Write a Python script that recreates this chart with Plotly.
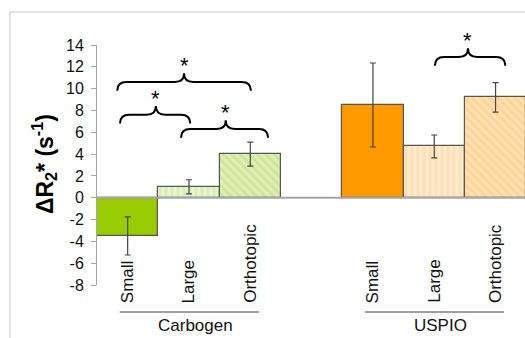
import plotly.graph_objects as go

# ---------------- data ----------------
groups = ["Carbogen", "USPIO"]
categories = ["Small", "Large", "Orthotopic"]
carbogen_values = [-3.5, 1.0, 4.0]
carbogen_errors = [1.75, 0.65, 1.1]
uspio_values = [8.5, 4.7, 9.2]
uspio_errors = [3.85, 1.05, 1.35]
y_tick_values = [-8, -6, -4, -2, 0, 2, 4, 6, 8, 10, 12, 14]
y_tick_labels = ["-8", "-6", "-4", "-2", "0", "2", "4", "6", "8", "10", "12", "14"]

# ---------------- styling ----------------
FONT = "Arial, Liberation Sans, sans-serif"
group_styles = {
    "Carbogen": dict(bg=["#99CC00", "#E9F4D0", "#E0EFB6"],
                     fg=["#99CC00", "#DCEBB6", "#CDE596"],
                     shape=["", "|", "\\"]),
    "USPIO": dict(bg=["#FF9900", "#FFEACD", "#FFE1B2"],
                  fg=["#FF9900", "#FFDFB4", "#FFD393"],
                  shape=["", "|", "\\"]),
}
group_data = {
    "Carbogen": (carbogen_values, carbogen_errors),
    "USPIO": (uspio_values, uspio_errors),
}

fig = go.Figure()
positions = {}
for gi, g in enumerate(groups):
    vals, errs = group_data[g]
    xs = [gi * 4 + j for j in range(len(categories))]
    positions[g] = xs
    st = group_styles[g]
    for j in range(len(categories)):
        pattern = dict(shape=st["shape"][j])
        if st["shape"][j]:
            pattern.update(fgcolor=st["fg"][j], bgcolor=st["bg"][j],
                           size=6, solidity=0.45, fillmode="replace")
        fig.add_trace(go.Bar(
            x=[xs[j]], y=[vals[j]], width=1.0,
            marker=dict(color=st["bg"][j],
                        line=dict(color="#555555", width=1.2),
                        pattern=pattern),
            error_y=dict(type="data", array=[errs[j]], color="#454545",
                         thickness=1.2, width=3),
            showlegend=False, hoverinfo="skip",
        ))

# zero line drawn above bars
fig.add_shape(type="line", xref="x", yref="y", x0=-0.5, x1=7.5, y0=0, y1=0,
              line=dict(color="#A6A6A6", width=2), layer="above")

# category labels (rotated) and group labels
for g in groups:
    xs = positions[g]
    for x, c in zip(xs, categories):
        fig.add_annotation(x=x, y=-0.0833, xref="x", yref="paper", text=c,
                           textangle=-90, showarrow=False, xanchor="center",
                           yanchor="bottom", font=dict(family=FONT, size=17, color="#111111"))
    fig.add_shape(type="line", xref="x", yref="paper", x0=xs[0] - 0.13, x1=xs[-1] + 0.14,
                  y0=-0.1125, y1=-0.1125, line=dict(color="#404040", width=1))
    fig.add_annotation(x=(xs[0] + xs[-1]) / 2 + 0.1, y=-0.12, xref="x", yref="paper",
                       text=g, showarrow=False, xanchor="center", yanchor="top",
                       font=dict(family=FONT, size=17, color="#111111"))

# significance braces: (start, end, middle, y_end)
braces = [
    (-0.17, 2.01, 0.92, 9.8),
    (-0.125, 1.02, 0.46, 6.8),
    (0.87, 2.29, 1.60, 5.5),
    (5.01, 6.16, 5.55, 12.1),
]
r = 0.15
for x0, x1, xm, ye in braces:
    yf = ye + 0.8
    yt = ye + 1.6
    path = (f"M {x0},{ye} Q {x0},{yf} {x0 + r},{yf} L {xm - r},{yf} "
            f"Q {xm},{yf} {xm},{yt} Q {xm},{yf} {xm + r},{yf} "
            f"L {x1 - r},{yf} Q {x1},{yf} {x1},{ye}")
    fig.add_shape(type="path", xref="x", yref="y", path=path,
                  line=dict(color="#000000", width=2))
    fig.add_annotation(x=xm, y=yt, xref="x", yref="y", text="*", showarrow=False,
                       xanchor="center", yanchor="middle", yshift=8,
                       font=dict(family=FONT, size=22, color="#000000"))

# y title
fig.add_annotation(x=-0.1238, y=0.504, xref="paper", yref="paper",
                   text="<b>ΔR<sub>2</sub>* (s<sup>-1</sup>)</b>", textangle=-90,
                   showarrow=False, xanchor="center", yanchor="middle",
                   font=dict(family=FONT, size=23, color="#000000"))

# outer frame
fig.add_shape(type="rect", xref="paper", yref="paper", x0=-0.2033, x1=1.3,
              y0=-0.5, y1=1.1375, line=dict(color="#C8C8C8", width=1))

fig.update_layout(
    width=525, height=338,
    margin=dict(l=97, r=0, t=45, b=53),
    paper_bgcolor="white", plot_bgcolor="white",
    bargap=0, barmode="overlay",
    xaxis=dict(range=[-0.5, 6.48], showticklabels=False, showgrid=False,
               zeroline=False, showline=False, ticks=""),
    yaxis=dict(range=[-8, 14], tickvals=y_tick_values, ticktext=y_tick_labels,
               showgrid=False, zeroline=False, showline=True,
               linecolor="#A6A6A6", linewidth=1, ticks="outside", ticklen=5,
               ticklabelstandoff=4,
               tickcolor="#A6A6A6", tickfont=dict(family=FONT, size=16, color="#111111")),
    font=dict(family=FONT),
)

fig.write_html("out.html", config={"displayModeBar": False},
               post_script="document.body.style.margin='0';")
